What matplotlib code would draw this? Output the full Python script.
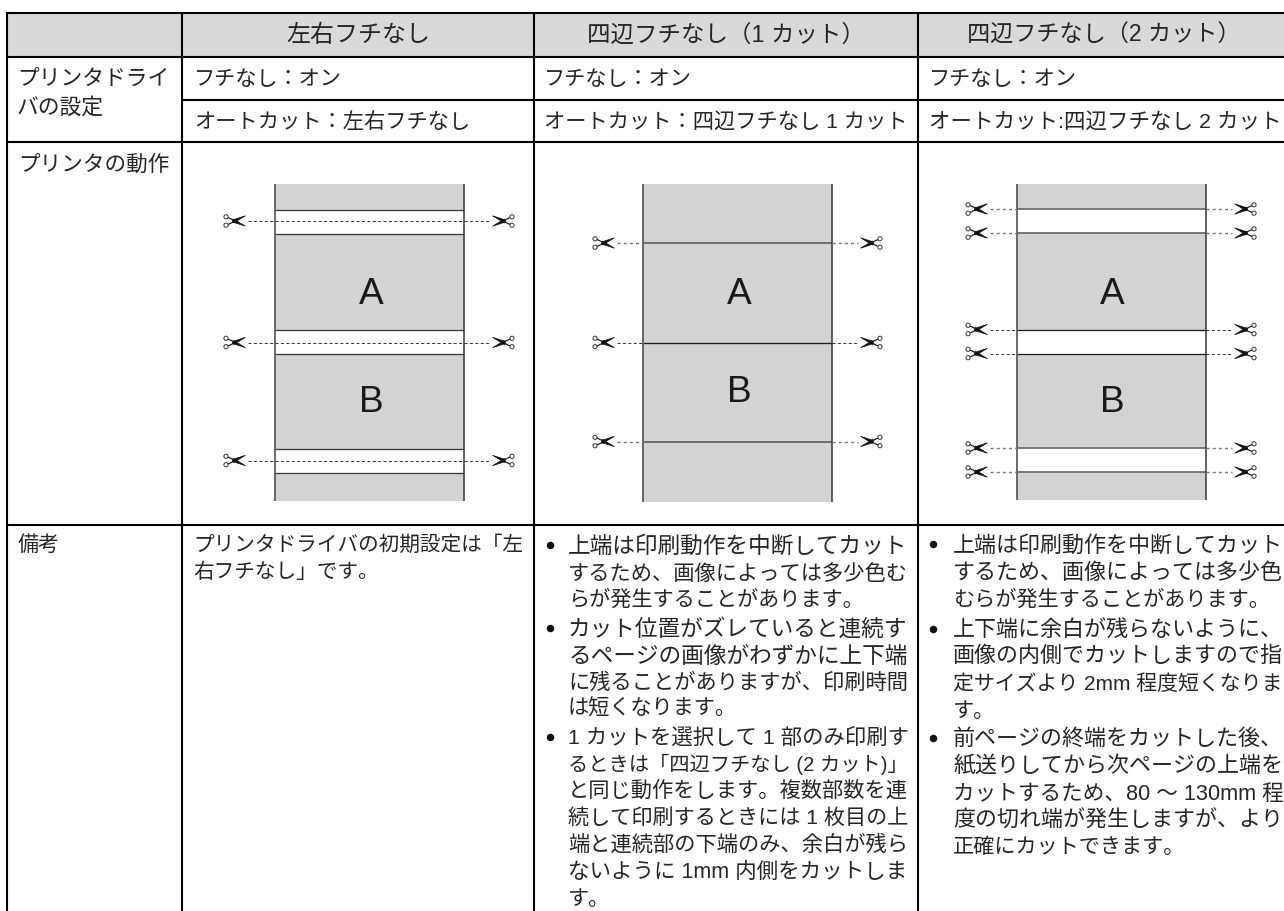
import matplotlib
matplotlib.use("Agg")
import matplotlib.pyplot as plt
from matplotlib.patches import Rectangle, Polygon, Circle

plt.rcParams['font.family'] = ['Liberation Sans', 'Noto Sans CJK JP', 'DejaVu Sans']

# ---------- text content ----------
headers = ["左右フチなし", "四辺フチなし（1 カット）", "四辺フチなし（2 カット）"]
row_driver = ["プリンタドライ", "バの設定"]
row_action = "プリンタの動作"
row_notes = "備考"
borderless = ["フチなし：オン", "フチなし：オン", "フチなし：オン"]
autocut = ["オートカット：左右フチなし", "オートカット：四辺フチなし 1 カット", "オートカット:四辺フチなし 2 カット"]
note_left = ["プリンタドライバの初期設定は「左", "右フチなし」です。"]
note_mid = [
    ["上端は印刷動作を中断してカット", "するため、画像によっては多少色む", "らが発生することがあります。"],
    ["カット位置がズレていると連続す", "るページの画像がわずかに上下端", "に残ることがありますが、印刷時間", "は短くなります。"],
    ["1 カットを選択して 1 部のみ印刷す", "るときは「四辺フチなし (2 カット)」", "と同じ動作をします。複数部数を連",
     "続して印刷するときには 1 枚目の上", "端と連続部の下端のみ、余白が残ら", "ないように 1mm 内側をカットしま", "す。"],
]
note_right = [
    ["上端は印刷動作を中断してカット", "するため、画像によっては多少色", "むらが発生することがあります。"],
    ["上下端に余白が残らないように、", "画像の内側でカットしますので指", "定サイズより 2mm 程度短くなりま", "す。"],
    ["前ページの終端をカットした後、", "紙送りしてから次ページの上端を", "カットするため、80 ～ 130mm 程", "度の切れ端が発生しますが、より", "正確にカットできます。"],
]

# ---------- table grid (pixels) ----------
grid_x = [7, 182, 534, 918]
grid_y = [12.5, 57, 100, 142, 524.5]

# ---------- diagrams ----------
sheet_x = [(275, 463.5), (643, 831.5), (1017, 1205.5)]
sheet_y = [(184, 501), (184, 501.5), (183.5, 500)]
white_bands = [[(209.5, 233.5), (330, 354), (448.5, 472.5)], [], [(209, 233), (329.5, 353.5), (448, 472)]]
edge_lines = [[], [243, 342.5, 441.5], []]
letter_pos = [(371, 303.5, 412), (739, 304, 402), (1112.5, 303.5, 412)]
dash_y = [[221, 342.5, 460.5], [243, 342.5, 441.5], [209, 233, 329.5, 353.5, 448, 472]]
scissor_x = [(223, 515), (592, 883), (965, 1257)]
dash_through = [True, False, False]

y_mid = [[544, 572, 598], [627, 654, 681, 707], [736, 763, 789, 816, 843, 870, 897]]
y_right = [[543, 571, 598], [628, 654, 682, 709], [737, 763, 792, 818, 845]]

fig = plt.figure(figsize=(12.84, 9.11), dpi=100, facecolor='white')
ax = fig.add_axes([0, 0, 1, 1])
ax.set_xlim(0, 1284)
ax.set_ylim(911, 0)
ax.axis('off')
fig.canvas.draw()
renderer = fig.canvas.get_renderer()

TXT = '#262626'
LW = 2.1 * 0.72        # table rules
PX = 0.72              # 1 px in points at dpi 100
BODY = 21.2            # px


def put(x, yc, s, px=BODY, width=None, ha='left', color=TXT):
    t = ax.text(x, yc + 0.38 * px, s, fontsize=px * PX, ha=ha, va='baseline', color=color)
    if width:
        w = t.get_window_extent(renderer).width
        t.set_fontsize(px * PX * width / w)
        t.set_y(yc + 0.38 * px * width / w)
    return t


# header background
ax.add_patch(Rectangle((grid_x[0], grid_y[0]), 1284 - grid_x[0], grid_y[1] - grid_y[0], fc='#d9d9d9', ec='none', zorder=0))
# grid lines
for y in grid_y:
    xs = grid_x[1] if y == grid_y[2] else grid_x[0]
    ax.plot([xs, 1284], [y, y], color='black', lw=LW, solid_capstyle='butt', zorder=5)
for x in grid_x:
    ax.plot([x, x], [grid_y[0] - 1, 911], color='black', lw=LW, solid_capstyle='butt', zorder=5)

# header text
for s, xc, w in zip(headers, [358, 726, 1104], [144, 278, 274]):
    put(xc, 33, s, px=23.5, width=w, ha='center')

# row labels
put(17, 77, row_driver[0], px=21.8)
put(17, 105, row_driver[1], px=21.8)
put(18, 163, row_action, px=21.6)
put(18, 543, row_notes, px=21)

# settings rows
for x, s, s2, w in zip([194, 544, 929], borderless, autocut, [275, 363, 351]):
    put(x, 77, s)
    put(x, 120, s2, width=w)


def scissors(x_ring, yc, direction):
    """Small scissors; rings at x_ring, blade tips about 20 px toward direction."""
    d = direction
    for sgn in (-1, 1):
        tip = (x_ring + d * 19.5, yc + sgn * 5.2)
        a = (x_ring + d * 7.5, yc - sgn * 2.0)
        b = (x_ring + d * 6.5, yc + sgn * 1.0)
        ax.add_patch(Polygon([a, tip, b], closed=True, fc='#111111', ec='#111111', lw=0.5, zorder=4))
        ax.plot([x_ring + d * 2.2, x_ring + d * 7.5], [yc - sgn * 3.4, yc - sgn * 0.9], color='#222222', lw=0.9, zorder=4)
        ax.add_patch(Circle((x_ring, yc - sgn * 4.2), 2.1, fc='white', ec='#333333', lw=0.7, zorder=4))


for i in range(3):
    (x0, x1), (y0, y1) = sheet_x[i], sheet_y[i]
    ax.add_patch(Rectangle((x0, y0), x1 - x0, y1 - y0, fc='#d1d3d4', ec='none', zorder=1))
    for a, b in white_bands[i]:
        ax.add_patch(Rectangle((x0, a), x1 - x0, b - a, fc='white', ec='none', zorder=2))
        for yy in (a, b):
            dark = 320 < a < 340
            shade = '#3a3a3a' if i == 0 else ('#1e1e1e' if dark else '#666666')
            ax.plot([x0, x1], [yy, yy], color=shade, lw=1.3 * PX if i == 0 or dark else 1.7 * PX, zorder=3, solid_capstyle='butt')
    for yy in edge_lines[i]:
        dark = 330 < yy < 350
        ax.plot([x0, x1], [yy, yy], color='#1e1e1e' if dark else '#666666', lw=(1.3 if dark else 1.8) * PX, zorder=3, solid_capstyle='butt')
    ax.plot([x0, x0], [y0, y1], color='#555555', lw=1.7 * PX, zorder=3, solid_capstyle='butt')
    ax.plot([x1, x1], [y0, y1], color='#333333', lw=1.5 * PX, zorder=3, solid_capstyle='butt')
    lx, ya, yb = letter_pos[i]
    ax.text(lx, ya, 'A', fontsize=37 * PX, ha='center', va='baseline', color='#1a1a1a', zorder=4)
    ax.text(lx, yb, 'B', fontsize=37 * PX, ha='center', va='baseline', color='#1a1a1a', zorder=4)
    sl, sr = scissor_x[i]
    for yy in dash_y[i]:
        dark = dash_through[i] or 320 < yy < 360
        col = '#222222' if dark else '#777777'
        dashes = (3.4, 2.6) if dark else (2.2, 2.2)
        lw = 0.9 * PX if dark else 1.4 * PX
        if dash_through[i]:
            ax.plot([sl + 25, sr - 25], [yy, yy], color=col, lw=lw, dashes=dashes, zorder=3)
        else:
            ax.plot([sl + 25, x0], [yy, yy], color=col, lw=lw, dashes=dashes, zorder=3)
            ax.plot([x1, sr - 25], [yy, yy], color=col, lw=lw, dashes=dashes, zorder=3)
        scissors(sl + 3, yy, 1)
        scissors(sr - 3, yy, -1)

# notes
put(193, 543, note_left[0], width=330)
put(193, 570, note_left[1], px=20.7)

for paras, ys, x_bullet, x_text, w_full in ((note_mid, y_mid, 550, 568, 339), (note_right, y_right, 933, 953, 329)):
    for lines, yl in zip(paras, ys):
        ax.plot([x_bullet], [yl[0] + 0.5], marker='o', ms=7.5 * PX, color='#111111', mec='none', zorder=4)
        for j, (s, yy) in enumerate(zip(lines, yl)):
            last = j == len(lines) - 1
            put(x_text, yy, s, width=None if last else w_full)

fig.savefig('out.png', dpi=100, facecolor='white')
